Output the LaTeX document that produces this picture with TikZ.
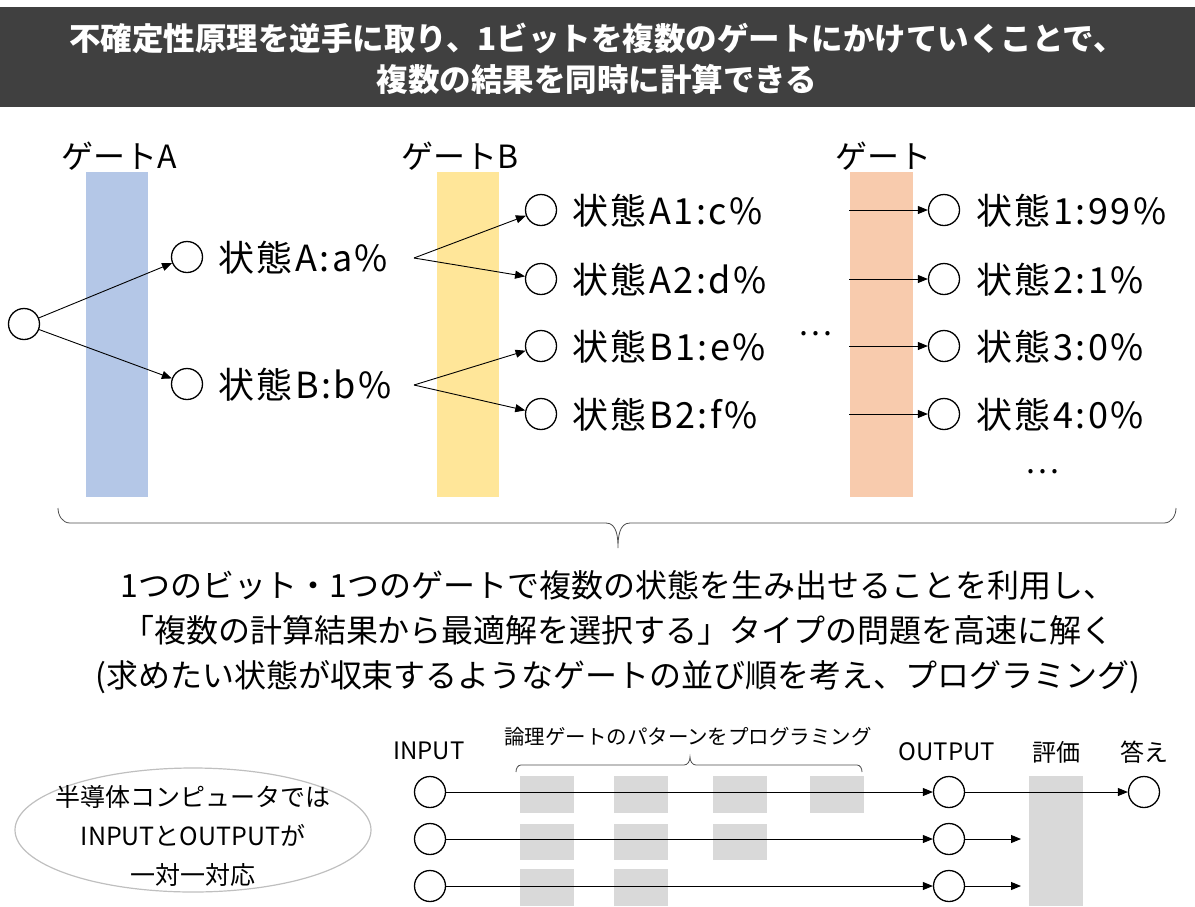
\documentclass[tikz,border=0pt]{standalone}
\usepackage{fontspec}
\setmainfont{Noto Sans CJK JP}
\usepackage{tikz}
\usetikzlibrary{arrows.meta}
\definecolor{titlebg}{HTML}{404040}
\definecolor{gateA}{HTML}{B4C7E7}
\definecolor{gateB}{HTML}{FFE699}
\definecolor{gateC}{HTML}{F8CBAD}
\definecolor{logic}{HTML}{D9D9D9}
\definecolor{oval}{HTML}{BFBFBF}
\tikzstyle{bit}=[circle, draw=black, line width=1.3pt, fill=white, minimum size=31pt, inner sep=0pt]
\tikzstyle{state}=[anchor=west, inner sep=0pt, font=\fontsize{36}{40}\selectfont\addfontfeature{LetterSpace=7}]
\tikzstyle{gatelabel}=[font=\fontsize{32}{38}\selectfont]
\tikzstyle{note}=[font=\fontsize{24}{28}\selectfont]
\tikzstyle{flow}=[line width=0.9pt, -{Triangle[length=10pt,width=8pt]}]

\begin{document}
\begin{tikzpicture}[x=1pt, y=-1pt]
\useasboundingbox (0,0) rectangle (1195,906);
% title
\fill[titlebg] (0,7) rectangle (1195,107);
\node[text=white, font=\bfseries\fontsize{31.5}{41}\selectfont, align=center] (title) at (597,59)
  {不確定性原理を逆手に取り、1ビットを複数のゲートにかけていくことで、\\複数の結果を同時に計算できる};

% gates
\fill[gateA] (86,172) rectangle (148,497);
\fill[gateB] (437,172) rectangle (499,497);
\fill[gateC] (850,172) rectangle (913,497);
\node[gatelabel] (labA) at (119,156) {ゲートA};
\node[gatelabel] (labB) at (460,156) {ゲートB};
\node[gatelabel] (labC) at (883,156) {ゲート};

% first gate
\node[bit] (s0) at (24,324) {};
\node[bit] (sA) at (187,257) {};
\node[bit] (sB) at (187,384) {};
\node[state] (tA) at (218,258) {状態A:a\%};
\node[state] (tB) at (218,385) {状態B:b\%};
\draw[flow] (s0) -- (sA);
\draw[flow] (s0) -- (sB);

% second gate
\coordinate (jA) at (414,258);
\coordinate (jB) at (414,385);
\node[bit] (sA1) at (541,210) {};
\node[bit] (sA2) at (541,279) {};
\node[bit] (sB1) at (541,346) {};
\node[bit] (sB2) at (541,414) {};
\node[state] (tA1) at (572,211) {状態A1:c\%};
\node[state] (tA2) at (572,280) {状態A2:d\%};
\node[state] (tB1) at (572,347) {状態B1:e\%};
\node[state] (tB2) at (572,415) {状態B2:f\%};
\draw[flow] (jA) -- (sA1);
\draw[flow] (jA) -- (sA2);
\draw[flow] (jB) -- (sB1);
\draw[flow] (jB) -- (sB2);
\node[font=\fontsize{32}{38}\selectfont] (dots1) at (815,334) {…};

% last gate
\foreach \i/\y/\t in {1/210/状態1:99\%, 2/279/状態2:1\%, 3/346/状態3:0\%, 4/414/状態4:0\%}{
  \coordinate (g\i) at (849,\y);
  \node[bit] (f\i) at (944,\y) {};
  \node[state] (tf\i) at (976,\y+1) {\t};
  \draw[flow] (g\i) -- (f\i);
}
\node[font=\fontsize{32}{38}\selectfont] (dots2) at (1042,472) {…};

% brace
\draw[line width=0.8pt, black!70] (58,508) to[out=-90,in=180] (70,523) -- (606,523)
  to[out=0,in=90] (618,548) to[out=90,in=180] (630,523) -- (1164,523) to[out=0,in=-90] (1176,508);
\node[align=center, font=\fontsize{32}{45}\selectfont] (summary) at (618,632)
  {1つのビット・1つのゲートで複数の状態を生み出せることを利用し、\\
   「複数の計算結果から最適解を選択する」タイプの問題を高速に解く\\
   (求めたい状態が収束するようなゲートの並び順を考え、プログラミング)};

% classical computer
\draw[oval, line width=1.2pt] (193,830) ellipse [x radius=178, y radius=62];
\node[align=center, font=\fontsize{25}{39}\selectfont] (memo) at (193,836)
  {半導体コンピュータでは\\INPUTとOUTPUTが\\一対一対応};

\node[note] (inlab) at (429,751) {INPUT};
\node[note] (outlab) at (947,752) {OUTPUT};
\node[note] (evallab) at (1056,752) {評価};
\node[note] (anslab) at (1144,752) {答え};
\node[font=\fontsize{20.5}{24}\selectfont] (prog) at (688,737) {論理ゲートのパターンをプログラミング};
\draw[line width=0.8pt, black!70] (516,772) to[out=90,in=180] (521,765) -- (684,765)
  to[out=0,in=-90] (690,757) to[out=-90,in=180] (696,765) -- (857,765) to[out=0,in=90] (862,772);

% logic gates
\foreach \x in {520,614,713,810}{ \fill[logic] (\x,776) rectangle +(54,37); }
\foreach \x in {520,614,713}{ \fill[logic] (\x,824) rectangle +(54,36); }
\foreach \x in {520,614}{ \fill[logic] (\x,869) rectangle +(54,37); }
\fill[logic] (1029,776) rectangle (1083,906);

\foreach \i/\y in {1/792, 2/839, 3/886}{
  \node[bit] (in\i) at (430,\y) {};
  \node[bit] (out\i) at (949,\y) {};
  \draw[flow] (in\i) -- (out\i);
}
\node[bit] (ans) at (1144,792) {};
\draw[flow] (out1) -- (ans);
\coordinate (ev2) at (1021,839);
\coordinate (ev3) at (1021,886);
\draw[flow] (out2) -- (ev2);
\draw[flow] (out3) -- (ev3);
\end{tikzpicture}
\end{document}
